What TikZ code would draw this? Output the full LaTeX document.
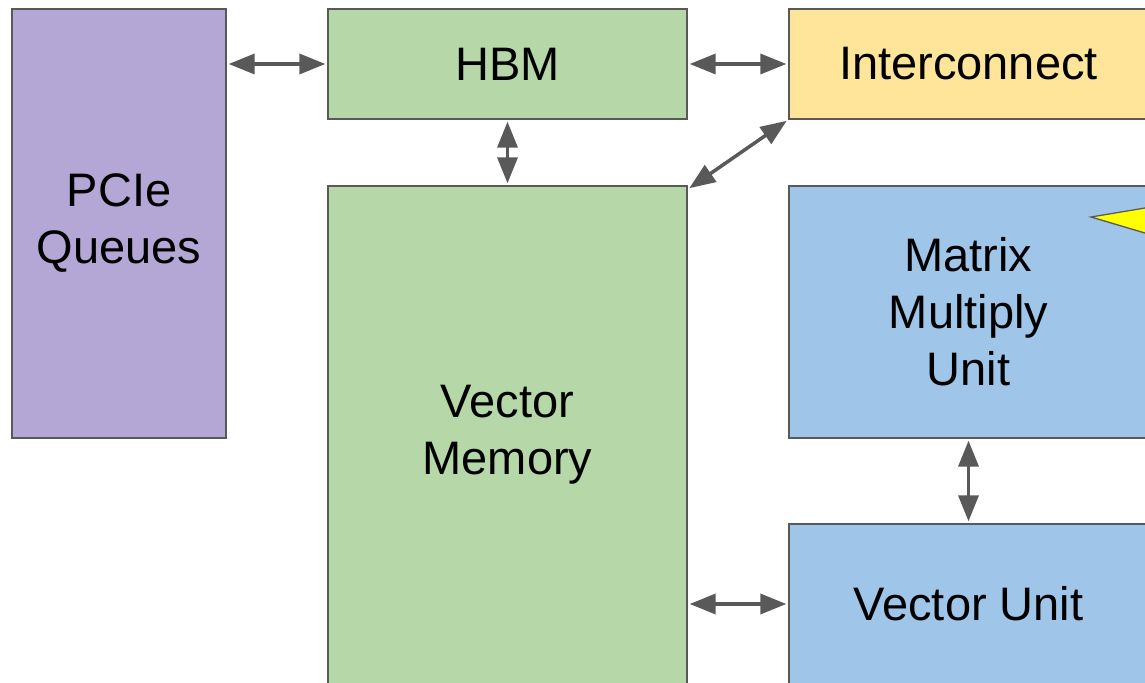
\documentclass[tikz,border=0pt]{standalone}
\usepackage{fontspec}
\setmainfont{Liberation Sans}
\usetikzlibrary{arrows.meta}

\definecolor{edgegray}{HTML}{595959}
\definecolor{pciepurple}{HTML}{B4A7D6}
\definecolor{memgreen}{HTML}{B6D7A8}
\definecolor{icyellow}{HTML}{FFE599}
\definecolor{unitblue}{HTML}{9FC5E8}
\definecolor{calloutyellow}{HTML}{FFFF00}

\begin{document}
\begin{tikzpicture}[x=0.5pt,y=-0.5pt,
    blockbox/.style={draw=edgegray,line width=0.65pt,inner sep=0pt,align=center,
        font=\fontsize{23.5}{28.5}\selectfont},
    link/.style={{Triangle[length=13pt,width=10pt]}-{Triangle[length=13pt,width=10pt]},
        draw=edgegray,line width=1.75pt,shorten >=1pt,shorten <=1pt}]

    % page frame
    \useasboundingbox (0,0) rectangle (1145,683);
    \clip (0,0) rectangle (1145,683);

    % host side queues
    \node[blockbox,fill=pciepurple,minimum width=107pt,minimum height=214.5pt] (pcie) at (119,223.5) {PCIe\\Queues};

    % off-chip memory
    \node[blockbox,fill=memgreen,minimum width=179.5pt,minimum height=55pt] (hbm) at (507.5,64) {HBM};

    % chip to chip links
    \node[blockbox,fill=icyellow,minimum width=179.5pt,minimum height=55pt] (inter) at (968.5,64) {Interconnect};

    % on-chip memory
    \node[blockbox,fill=memgreen,minimum width=179.5pt,minimum height=249pt] (vmem) at (507.5,435) {Vector\\Memory};

    %%%%%%%%%%%%%%%%%%%%%%%%%%%%%%%%%%%%%%%%%%%%%%%%%%%%%%

    % matrix unit
    \node[blockbox,fill=unitblue,minimum width=179.5pt,minimum height=126pt] (mxu) at (968.5,312) {Matrix\\Multiply\\Unit};

    % vector unit
    \node[blockbox,fill=unitblue,minimum width=179.5pt,minimum height=80pt] (vu) at (968.5,604) {Vector Unit};

    % callout pointer
    \filldraw[fill=calloutyellow,draw=edgegray,line width=0.65pt] (1091,217) -- (1160,205.5) -- (1160,237.5) -- cycle;

    %%%%%%%%%%%%%%%%%%%%%%%%%%%%%%%%%%%%%%%%%%%%%%%%%%%%%%

    % data paths
    \draw[link] (pcie.east |- hbm.west) to (hbm.west);
    \draw[link] (hbm.east) to (inter.west);
    \draw[link] (hbm.south) to (vmem.north);
    \draw[link] (inter.south west) to ([yshift=-2pt]vmem.north east);
    \draw[link] (mxu.south) to (vu.north);
    \draw[link] (vmem.east |- vu.west) to (vu.west);

\end{tikzpicture}
\end{document}
